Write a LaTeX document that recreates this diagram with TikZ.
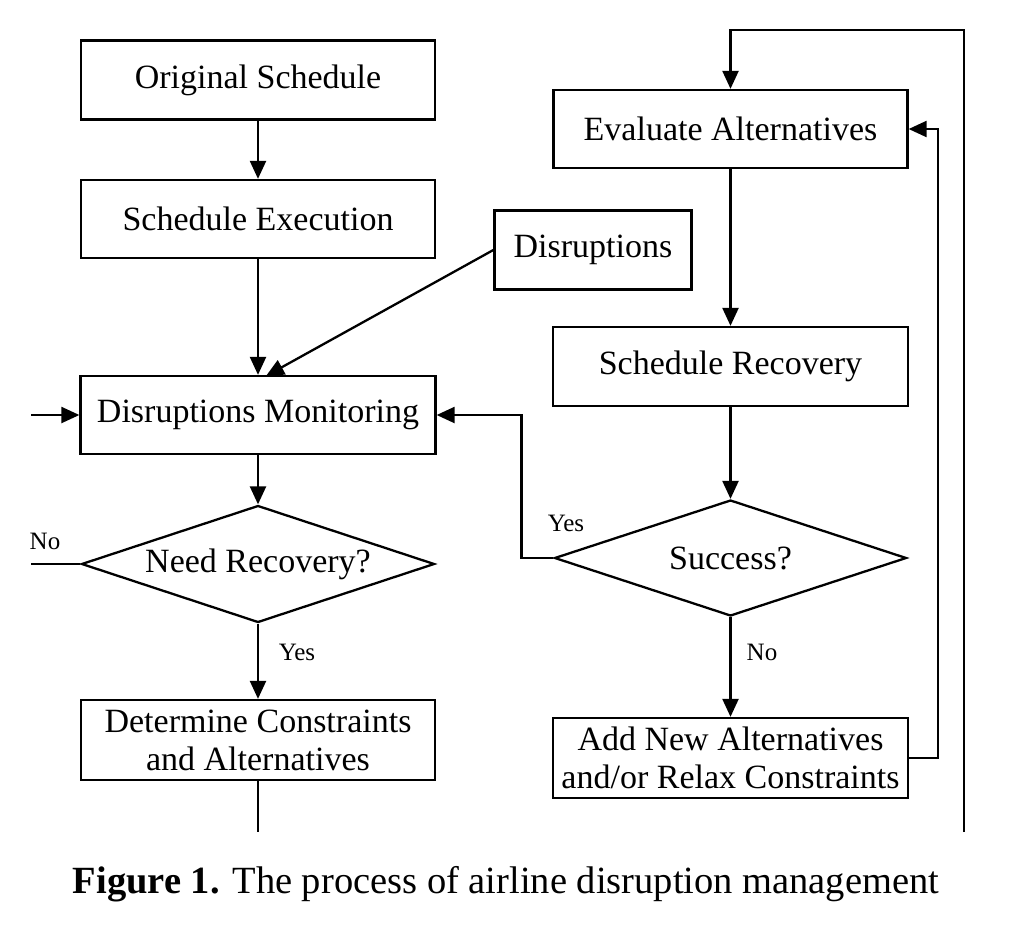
\documentclass[tikz,border=0pt]{standalone}
\usepackage{fontspec}
\setmainfont{Liberation Serif}
\usetikzlibrary{shapes.geometric,arrows.meta}
\begin{document}
\begin{tikzpicture}[x=1pt,y=-1pt,
  lw/.style={line width=2.3pt},
  box/.style={draw,lw,rectangle,inner sep=0pt,minimum width=354pt,minimum height=79pt,font=\fontsize{34}{38}\selectfont,align=center},
  dec/.style={draw,lw,diamond,inner sep=0pt,aspect=3.02,minimum width=353pt,minimum height=117pt,font=\fontsize{34}{38}\selectfont},
  lbl/.style={font=\fontsize{25}{28}\selectfont,inner sep=0pt},
  arr/.style={lw,-{Triangle[length=18pt,width=16pt]}},
  ln/.style={lw}]
\useasboundingbox (0,0) rectangle (1012,935);
% left column
\node[box] (os) at (258,80) {Original Schedule};
\node[box,minimum height=78pt] (se) at (258,219) {Schedule Execution};
\node[box,minimum width=197pt] (dis) at (593,250) {Disruptions};
\node[box,minimum width=355pt,minimum height=78pt] (dm) at (258,415) {Disruptions Monitoring};
\node[dec] (nr) at (258,564) {Need Recovery?};
\node[box,minimum height=80pt] (dc) at (258,740) {Determine Constraints\\and Alternatives};
% right column
\node[box,minimum width=354pt,minimum height=78pt] (ea) at (730.5,129) {Evaluate Alternatives};
\node[box,minimum width=355pt,minimum height=79pt] (sr) at (730.5,366.5) {Schedule Recovery};
\node[dec,minimum width=352pt,minimum height=116pt] (su) at (730.5,558) {Success?};
\node[box,minimum width=355pt,minimum height=80pt] (an) at (730.5,758) {Add New Alternatives\\and/or Relax Constraints};
% free ends
\coordinate (inL) at (31,415);
\coordinate (noL) at (31,564);
\coordinate (dcEnd) at (258,832);
\coordinate (loopB) at (964,832);
\coordinate (loopT) at (964,30);
\coordinate (disTip) at (266,376);
% connectors
\draw[arr] (os.south) -- (se.north);
\draw[arr] (se.south) -- (dm.north);
\draw[arr] (dis.west) -- (disTip);
\draw[arr] (inL) -- (dm.west);
\draw[arr] (dm.south) -- (nr.north);
\draw[ln] (noL) -- (nr.west);
\draw[arr] (nr.south) -- (dc.north);
\draw[ln] (dc.south) -- (dcEnd);
\draw[arr] (ea.south) -- (sr.north);
\draw[arr] (sr.south) -- (su.north);
\draw[arr] (su.south) -- (an.north);
\draw[arr] (su.west) -- ++(-32,0) |- (dm.east);
\draw[arr] (an.east) -- ++(29,0) |- (ea.east);
\draw[arr] (loopB) -- (loopT) -| (ea.north);
% labels
\node[lbl] (lno1) at (45,541) {No};
\node[lbl] (lyes1) at (297,652) {Yes};
\node[lbl] (lyes2) at (566,523) {Yes};
\node[lbl] (lno2) at (762,652) {No};
% caption
\node[font=\fontsize{38.5}{42}\selectfont,inner sep=0pt] (cap) at (506,884) {\textbf{Figure 1.} The process of airline disruption management};
\end{tikzpicture}
\end{document}
